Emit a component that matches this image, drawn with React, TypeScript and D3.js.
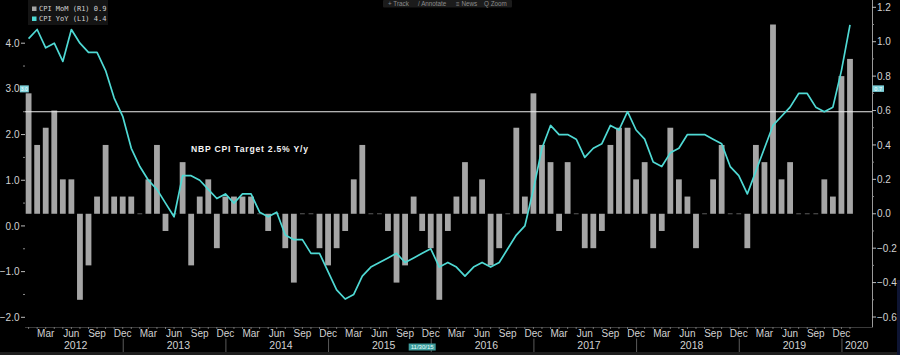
import React from 'react';
import * as d3 from 'd3';

// ---------- data ----------
const startYear = 2012;
const monthAbbr = ['Jan', 'Feb', 'Mar', 'Apr', 'May', 'Jun', 'Jul', 'Aug', 'Sep', 'Oct', 'Nov', 'Dec'];
const labelledMonths = [2, 5, 8, 11]; // Mar, Jun, Sep, Dec
const yearLabels = [2012, 2013, 2014, 2015, 2016, 2017, 2018, 2019, 2020];

// CPI MoM (right axis), Jan 2012 .. Jan 2020
const cpiMoM = [
  0.7, 0.4, 0.5, 0.6, 0.2, 0.2, -0.5, -0.3, 0.1, 0.4, 0.1, 0.1, // 2012
  0.1, 0.0, 0.2, 0.4, -0.1, 0.0, 0.3, -0.3, 0.1, 0.2, -0.2, 0.1, // 2013
  0.1, 0.1, 0.1, 0.0, -0.1, 0.0, -0.2, -0.4, 0.0, 0.0, -0.2, -0.3, // 2014
  -0.2, -0.1, 0.2, 0.4, 0.0, 0.0, -0.1, -0.4, -0.3, 0.1, -0.1, -0.2, // 2015
  -0.5, -0.1, 0.1, 0.3, 0.1, 0.2, -0.3, -0.2, 0.0, 0.5, 0.1, 0.7, // 2016
  0.4, 0.3, -0.1, 0.3, 0.0, -0.2, -0.2, -0.1, 0.4, 0.5, 0.5, 0.2, // 2017
  0.3, -0.2, -0.1, 0.5, 0.2, 0.1, -0.2, 0.0, 0.2, 0.4, 0.0, 0.0, // 2018
  -0.2, 0.4, 0.3, 1.1, 0.2, 0.3, 0.0, 0.0, 0.0, 0.2, 0.1, 0.8, // 2019
  0.9, // 2020
];

// CPI YoY (left axis), Jan 2012 .. Jan 2020
const cpiYoY = [
  4.1, 4.3, 3.9, 4.0, 3.6, 4.3, 4.0, 3.8, 3.8, 3.4, 2.8, 2.4, // 2012
  1.7, 1.3, 1.0, 0.8, 0.5, 0.2, 1.1, 1.1, 1.0, 0.8, 0.6, 0.7, // 2013
  0.5, 0.7, 0.7, 0.3, 0.2, 0.3, -0.2, -0.3, -0.3, -0.6, -0.6, -1.0, // 2014
  -1.4, -1.6, -1.5, -1.1, -0.9, -0.8, -0.7, -0.6, -0.8, -0.7, -0.6, -0.5, // 2015
  -0.9, -0.8, -0.9, -1.1, -0.9, -0.8, -0.9, -0.8, -0.5, -0.2, 0.0, 0.8, // 2016
  1.7, 2.2, 2.0, 2.0, 1.9, 1.5, 1.7, 1.8, 2.2, 2.1, 2.5, 2.1, // 2017
  1.9, 1.4, 1.3, 1.6, 1.7, 2.0, 2.0, 2.0, 1.9, 1.8, 1.3, 1.1, // 2018
  0.7, 1.2, 1.7, 2.2, 2.4, 2.6, 2.9, 2.9, 2.6, 2.5, 2.6, 3.4, // 2019
  4.4, // 2020
];

const leftTicks = [-2, -1, 0, 1, 2, 3, 4];
const leftMinorTicks = [-1.5, -0.5, 0.5, 1.5, 2.5, 3.5];
const rightTicks = [-0.6, -0.4, -0.2, 0.0, 0.2, 0.4, 0.6, 0.8, 1.0, 1.2];
const rightMinorTicks = [-0.5, -0.3, -0.1, 0.1, 0.3, 0.5, 0.7, 0.9, 1.1];

const targetValue = 2.5;
const targetLabel = 'NBP CPI Target 2.5% Y/y';
const seriesMoMName = 'CPI MoM (R1)';
const seriesYoYName = 'CPI YoY (L1)';
const crossLeftText = '3.0';
const crossRightText = '0.7';
const crossValueLeft = 3.0;
const crossDateText = '11/30/15';
const crossIndex = 46;
const toolbarItems = [
  { icon: '+', label: 'Track' },
  { icon: '/', label: 'Annotate' },
  { icon: '≡', label: 'News' },
  { icon: 'Q', label: 'Zoom' },
];

// ---------- layout ----------
const W = 900;
const H = 355;
const plotLeft = 25;
const plotRight = 872;
const plotBottom = 327;
const BAR = '#a6a6a6';
const LINE = '#4fd9d4';
const TXT = '#d2d2d2';
const FONT = '"Liberation Sans", Arial, sans-serif';

export default function App() {
  const n = cpiMoM.length;
  const x = d3.scaleLinear().domain([0, n - 1]).range([28.6, 850]);
  const yL = d3.scaleLinear().domain([-2, 4]).range([317.3, 43.2]);
  const yR = d3.scaleLinear().domain([-0.6, 1.2]).range([317, 7.3]);
  const bw = 5.8;
  const fmt1 = d3.format('.1f');

  const line = d3
    .line<number>()
    .x((_, i) => x(i))
    .y((v) => yL(v));

  const idx = d3.range(n);
  const monthTicks = idx.filter((i) => i < n - 1 && labelledMonths.includes(i % 12));
  const decIdx = idx.filter((i) => i % 12 === 11);

  const crossY = yL(crossValueLeft);

  let tbX = 388;
  const tbWidths = [24, 32, 22, 22];

  return (
    <svg
      width={W}
      height={H}
      style={{ position: 'fixed', left: 0, top: 0, display: 'block', background: '#000' }}
      fontFamily={FONT}
    >
      <rect x={0} y={0} width={W} height={H} fill="#000" />

      {/* bars */}
      {cpiMoM.map((v, i) =>
        v === 0 ? (
          <rect key={'b' + i} x={x(i) - bw / 2 + 0.5} y={yR(0) - 0.5} width={bw - 1} height={1} fill="#5a5a5a" />
        ) : (
          <rect
            key={'b' + i}
            x={x(i) - bw / 2}
            y={yR(Math.max(0, v))}
            width={bw}
            height={Math.abs(yR(v) - yR(0))}
            fill={BAR}
          />
        )
      )}

      {/* target line */}
      <line x1={plotLeft} x2={plotRight} y1={yL(targetValue)} y2={yL(targetValue)} stroke="#ececec" strokeWidth={1.1} />
      <text x={191} y={152} fontSize={8.6} fontWeight="bold" fill="#f4f4f4" textLength={117} lengthAdjust="spacing">
        {targetLabel}
      </text>

      {/* YoY line */}
      <path d={line(cpiYoY) || ''} fill="none" stroke={LINE} strokeWidth={1.7} strokeLinejoin="round" />

      {/* left axis */}
      {leftTicks.map((t) => (
        <g key={'lt' + t}>
          <line x1={21} x2={25} y1={yL(t)} y2={yL(t)} stroke="#bdbdbd" strokeWidth={1} />
          <text x={19.5} y={yL(t) + 3.6} fontSize={10} fill={TXT} textAnchor="end">
            {fmt1(t)}
          </text>
        </g>
      ))}
      {leftMinorTicks.map((t) => (
        <line key={'lm' + t} x1={23} x2={25} y1={yL(t)} y2={yL(t)} stroke="#8a8a8a" strokeWidth={1} />
      ))}

      {/* right axis */}
      <line x1={plotRight + 0.5} x2={plotRight + 0.5} y1={0} y2={plotBottom} stroke="#9a9a9a" strokeWidth={1} />
      {rightTicks.map((t) => (
        <g key={'rt' + t}>
          <line x1={plotRight} x2={plotRight + 4} y1={yR(t)} y2={yR(t)} stroke="#bdbdbd" strokeWidth={1} />
          <text x={plotRight + 5} y={yR(t) + 3.6} fontSize={10} fill={TXT}>
            {fmt1(t)}
          </text>
        </g>
      ))}
      {rightMinorTicks.map((t) => (
        <line key={'rm' + t} x1={plotRight} x2={plotRight + 2} y1={yR(t)} y2={yR(t)} stroke="#8a8a8a" strokeWidth={1} />
      ))}

      {/* bottom axis */}
      <line x1={plotLeft} x2={plotRight + 1} y1={plotBottom + 0.5} y2={plotBottom + 0.5} stroke="#3a3a3a" strokeWidth={1} />
      {idx.map((i) => (
        <line key={'mt' + i} x1={x(i)} x2={x(i)} y1={plotBottom} y2={plotBottom + 2} stroke="#8a8a8a" strokeWidth={0.8} />
      ))}
      {monthTicks.map((i) => (
        <text key={'ml' + i} x={x(i)} y={337} fontSize={10} fill={TXT} textAnchor="middle">
          {monthAbbr[i % 12]}
        </text>
      ))}
      {decIdx.map((i) => (
        <line key={'ys' + i} x1={x(i) + 0.5} x2={x(i) + 0.5} y1={338.5} y2={352} stroke="#5a5a5a" strokeWidth={1} />
      ))}
      {yearLabels.map((yr) => {
        const first = (yr - startYear) * 12;
        const last = Math.min(first + 11, n - 1);
        const cx = last > first ? (x(first) + x(last)) / 2 : (x(first - 1) + plotRight) / 2;
        return (
          <text key={'yl' + yr} x={cx} y={348.5} fontSize={10.5} fill={TXT} textAnchor="middle">
            {yr}
          </text>
        );
      })}

      {/* crosshair value boxes */}
      <rect x={19.8} y={crossY - 3.5} width={9} height={7} fill="#7fd3dc" />
      <text x={24.3} y={crossY + 2} fontSize={5} fill="#ffffff" textAnchor="middle">
        {crossLeftText}
      </text>
      <rect x={plotRight + 0.5} y={crossY - 3.5} width={11.5} height={6.5} fill="#7fd3dc" />
      <text x={plotRight + 6.2} y={crossY + 1.8} fontSize={5.5} fill="#ffffff" textAnchor="middle">
        {crossRightText}
      </text>
      <rect x={x(crossIndex) - 13.5} y={343.5} width={27} height={7} fill="#3d9c9c" />
      <text x={x(crossIndex)} y={349.2} fontSize={6} fill="#e8ffff" textAnchor="middle">
        {crossDateText}
      </text>

      {/* legend */}
      <rect x={28} y={0} width={80} height={25} fill="#141414" />
      <rect x={32} y={6.5} width={4.5} height={4.5} fill={BAR} />
      <text x={39} y={11.2} fontSize={7} fill={TXT} fontFamily='"DejaVu Sans Mono", monospace'>
        {`${seriesMoMName} ${fmt1(cpiMoM[n - 1])}`}
      </text>
      <rect x={32} y={16.5} width={4.5} height={4.5} fill={LINE} />
      <text x={39} y={21.2} fontSize={7} fill={TXT} fontFamily='"DejaVu Sans Mono", monospace'>
        {`${seriesYoYName} ${fmt1(cpiYoY[n - 1])}`}
      </text>

      {/* toolbar */}
      <rect x={383} y={0} width={129} height={7.5} fill="#1b1b1b" rx={1} />
      {toolbarItems.map((it, k) => {
        const xx = tbX;
        tbX += tbWidths[k] + 6;
        return (
          <text key={'tb' + k} x={xx} y={5.6} fontSize={6.3} fill="#8c8c8c">
            {it.icon + '  ' + it.label}
          </text>
        );
      })}

      {/* bottom strip & right edge */}
      <rect x={0} y={352} width={W} height={3} fill="#1e1e1e" />
      <rect x={897} y={280} width={3} height={75} fill="#0d1433" />
    </svg>
  );
}
